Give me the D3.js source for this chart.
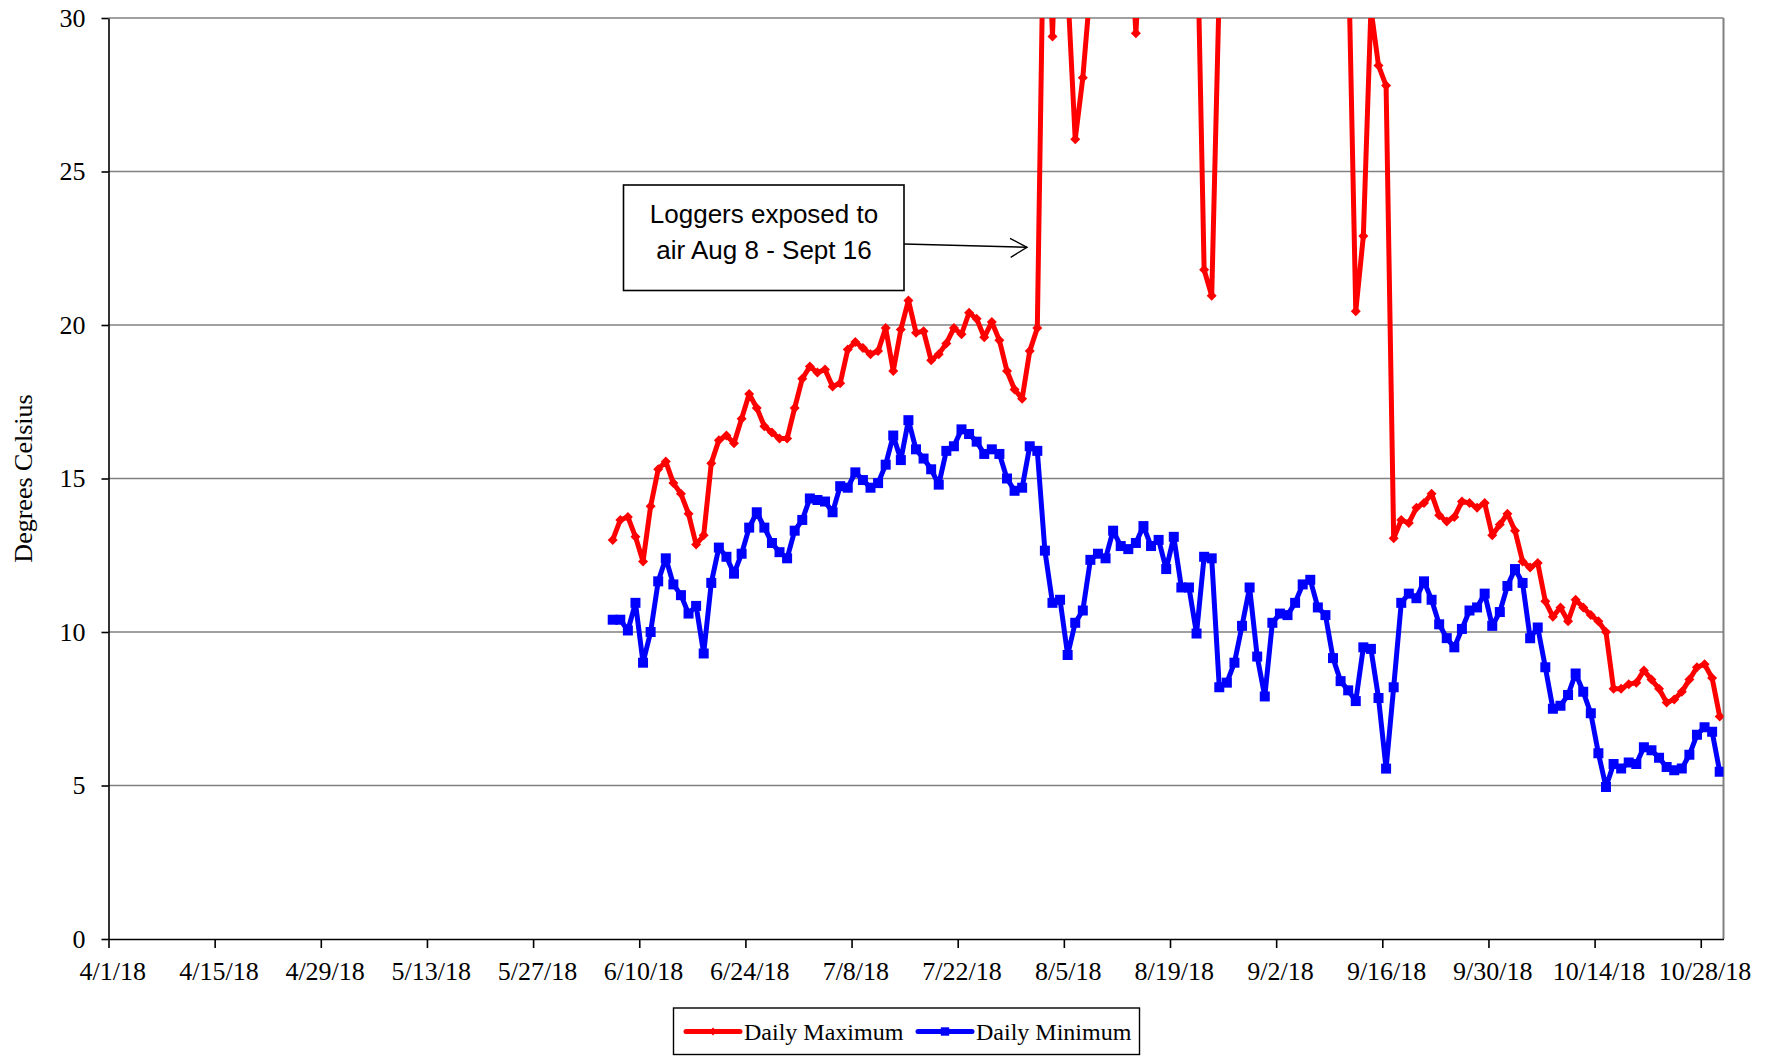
<!DOCTYPE html>
<html>
<head>
<meta charset="utf-8">
<script src="https://cdn.jsdelivr.net/npm/d3@7"></script>
<style>
  body { margin: 0; background: #fff; }
  svg { display: block; }
</style>
</head>
<body>
<svg id="chart"></svg>
<script>
// ───────────────── DATA ─────────────────
const FIRST_DAY = "6/6/18";   // one reading per day from here on

const dailyMax = [
  13.0, 13.65, 13.75, 13.1, 12.3, 14.1, 15.3, 15.55, 14.85, 14.5,
  13.85, 12.85, 13.15, 15.5, 16.25, 16.4, 16.15, 16.95, 17.75, 17.3,
  16.7, 16.5, 16.3, 16.3, 17.3, 18.25, 18.65, 18.45, 18.55, 18.0,
  18.1, 19.2, 19.45, 19.25, 19.05, 19.15, 19.9, 18.5, 19.85, 20.8,
  19.75, 19.8, 18.85, 19.05, 19.4, 19.9, 19.7, 20.4, 20.2, 19.6,
  20.1, 19.5, 18.5, 17.9, 17.6, 19.15, 19.9, 36, 29.4, 37,
  31, 26.05, 28.05, 31, 34, 35, 33, 35, 34, 29.5,
  34, 36, 35, 33, 35, 36, 34, 34, 21.8, 20.95,
  31, 34, 35, 33, 36, 35, 34, 33, 35, 36,
  34, 35, 36, 34, 33, 35, 34, 32.5, 20.45, 22.9,
  30.3, 28.45, 27.8, 13.05, 13.65, 13.55, 14.05, 14.2, 14.5, 13.8,
  13.6, 13.75, 14.25, 14.2, 14.05, 14.2, 13.15, 13.5, 13.85, 13.3,
  12.3, 12.1, 12.25, 11.0, 10.5, 10.8, 10.35, 11.05, 10.8, 10.55,
  10.35, 10.0, 8.15, 8.15, 8.3, 8.35, 8.75, 8.45, 8.15, 7.7,
  7.8, 8.05, 8.45, 8.85, 8.95, 8.5, 7.25
];

const dailyMin = [
  10.4, 10.4, 10.05, 10.95, 9.0, 10.0, 11.65, 12.4, 11.55, 11.2,
  10.6, 10.85, 9.3, 11.6, 12.75, 12.45, 11.9, 12.55, 13.4, 13.9,
  13.4, 12.9, 12.6, 12.4, 13.3, 13.65, 14.35, 14.3, 14.25, 13.9,
  14.75, 14.7, 15.2, 14.95, 14.7, 14.85, 15.45, 16.4, 15.6, 16.9,
  15.95, 15.65, 15.3, 14.8, 15.9, 16.05, 16.6, 16.45, 16.2, 15.8,
  15.95, 15.8, 15.0, 14.6, 14.7, 16.05, 15.9, 12.65, 10.95, 11.05,
  9.25, 10.3, 10.7, 12.35, 12.55, 12.4, 13.3, 12.8, 12.7, 12.9,
  13.45, 12.8, 13.0, 12.05, 13.1, 11.45, 11.45, 9.95, 12.45, 12.4,
  8.2, 8.35, 9.0, 10.2, 11.45, 9.2, 7.9, 10.3, 10.6, 10.55,
  10.95, 11.55, 11.7, 10.8, 10.55, 9.15, 8.4, 8.1, 7.75, 9.5,
  9.45, 7.85, 5.55, 8.2, 10.95, 11.25, 11.1, 11.65, 11.05, 10.25,
  9.8, 9.5, 10.1, 10.7, 10.8, 11.25, 10.2, 10.65, 11.5, 12.05,
  11.6, 9.8, 10.15, 8.85, 7.5, 7.6, 7.95, 8.65, 8.05, 7.35,
  6.05, 4.95, 5.7, 5.55, 5.75, 5.7, 6.25, 6.15, 5.9, 5.6,
  5.5, 5.55, 6.0, 6.65, 6.9, 6.75, 5.45
];

const xTickLabels = [
  "4/1/18", "4/15/18", "4/29/18", "5/13/18", "5/27/18", "6/10/18",
  "6/24/18", "7/8/18", "7/22/18", "8/5/18", "8/19/18", "9/2/18",
  "9/16/18", "9/30/18", "10/14/18", "10/28/18"
];
const X_END = "10/31/18";

const yTicks = [0, 5, 10, 15, 20, 25, 30];

const seriesNames = ["Daily Maximum", "Daily Minimum"];
const noteLines = ["Loggers exposed to", "air Aug 8 - Sept 16"];

// ───────────────── SIZE ─────────────────
const W = 1772;
const H = 1056;

const plot = {
  left: 108.5,
  right: 1723.5,
  top: 18,
  bottom: 939
};

const RED = "#ff0000";
const BLUE = "#0000ff";
const SERIF = "'Liberation Serif', 'Times New Roman', serif";

// ───────────────── SVG ─────────────────
const svg = d3.select("#chart")
  .attr("width", W)
  .attr("height", H)
  .attr("viewBox", `0 0 ${W} ${H}`);

svg.append("rect")
  .attr("width", W)
  .attr("height", H)
  .attr("fill", "#fff");

const parse = d3.timeParse("%-m/%-d/%y");
const firstDay = parse(FIRST_DAY);

const rows = dailyMax.map((v, i) => ({
  date: d3.timeDay.offset(firstDay, i),
  max: v,
  min: dailyMin[i]
}));

// ───────────────── SCALE ─────────────────
const x = d3.scaleTime()
  .domain([parse(xTickLabels[0]), parse(X_END)])
  .range([plot.left, plot.right]);

const y = d3.scaleLinear()
  .domain([0, 30])
  .range([plot.bottom, plot.top]);

// points sit in the middle of their day slot
const mid = d => x(d3.timeHour.offset(d, 12));
const halfDay = (x(parse("4/2/18")) - x(parse("4/1/18"))) / 2;

// ───── GRID ─────
svg.append("g")
  .selectAll("line")
  .data(yTicks.filter(t => t > 0))
  .join("line")
  .attr("x1", plot.left)
  .attr("x2", plot.right)
  .attr("y1", d => y(d))
  .attr("y2", d => y(d))
  .attr("stroke", "#808080")
  .attr("stroke-width", 1.4);

svg.append("line")
  .attr("x1", plot.right)
  .attr("x2", plot.right)
  .attr("y1", plot.top)
  .attr("y2", plot.bottom)
  .attr("stroke", "#808080")
  .attr("stroke-width", 2);

// ───── X AXIS ─────
const xAxis = svg.append("g")
  .attr("transform", `translate(0,${plot.bottom})`)
  .call(
    d3.axisBottom(x)
      .tickValues(xTickLabels.map(parse))
      .tickSize(9)
      .tickSizeOuter(0)
      .tickFormat((d, i) => xTickLabels[i])
  );

xAxis.selectAll("line,path")
  .attr("stroke", "#000")
  .attr("stroke-width", 1.6);

xAxis.selectAll("text")
  .attr("x", halfDay)
  .attr("y", 41)
  .attr("dy", 0)
  .attr("fill", "#000")
  .style("font-family", SERIF)
  .style("font-size", "26px");

// ───── Y AXIS ─────
const yAxis = svg.append("g")
  .attr("transform", `translate(${plot.left},0)`)
  .call(
    d3.axisLeft(y)
      .tickValues(yTicks)
      .tickSize(7)
      .tickSizeOuter(0)
      .tickPadding(16)
  );

yAxis.selectAll("line,path")
  .attr("stroke", "#000")
  .attr("stroke-width", 1.6);

yAxis.selectAll("text")
  .attr("fill", "#000")
  .style("font-family", SERIF)
  .style("font-size", "26px");

// ───── AXIS LABEL ─────
svg.append("text")
  .attr("transform", `translate(32,${(plot.top + plot.bottom) / 2}) rotate(-90)`)
  .attr("text-anchor", "middle")
  .attr("fill", "#000")
  .style("font-family", SERIF)
  .style("font-size", "26px")
  .text("Degrees Celsius");

// ───── LINES ─────
svg.append("clipPath")
  .attr("id", "plot-clip")
  .append("rect")
  .attr("x", plot.left)
  .attr("y", plot.top)
  .attr("width", plot.right - plot.left)
  .attr("height", plot.bottom - plot.top);

const marks = svg.append("g")
  .attr("clip-path", "url(#plot-clip)");

const diamond = s => `M0,${-s} L${s},0 L0,${s} L${-s},0 Z`;
const square = s => `M${-s},${-s} H${s} V${s} H${-s} Z`;

const series = [
  { key: "max", color: RED, shape: diamond(5) },
  { key: "min", color: BLUE, shape: square(5) }
];

series.forEach(s => {
  marks.append("path")
    .datum(rows)
    .attr("fill", "none")
    .attr("stroke", s.color)
    .attr("stroke-width", 5)
    .attr("stroke-linejoin", "round")
    .attr("d", d3.line()
      .x(d => mid(d.date))
      .y(d => y(d[s.key]))
    );

  marks.append("g")
    .selectAll("path")
    .data(rows)
    .join("path")
    .attr("transform", d => `translate(${mid(d.date)},${y(d[s.key])})`)
    .attr("d", s.shape)
    .attr("fill", s.color);
});

// ───── NOTE ─────
const note = svg.append("g");

note.append("rect")
  .attr("x", 623.5)
  .attr("y", 185)
  .attr("width", 280.5)
  .attr("height", 105.5)
  .attr("fill", "#fff")
  .attr("stroke", "#000")
  .attr("stroke-width", 1.6);

note.selectAll("text")
  .data(noteLines)
  .join("text")
  .attr("x", 764)
  .attr("y", (d, i) => 223 + i * 36)
  .attr("text-anchor", "middle")
  .attr("fill", "#000")
  .style("font-family", "'Liberation Sans', Arial, sans-serif")
  .style("font-size", "26px")
  .text(d => d);

note.append("line")
  .attr("x1", 904)
  .attr("y1", 244)
  .attr("x2", 1027)
  .attr("y2", 247.3)
  .attr("stroke", "#000")
  .attr("stroke-width", 1.4);

note.append("path")
  .attr("d", "M1010,238.3 L1027,247.3 L1010.7,257.3")
  .attr("fill", "none")
  .attr("stroke", "#000")
  .attr("stroke-width", 1.4);

// ───── LEGEND ─────
const legend = svg.append("g");

legend.append("rect")
  .attr("x", 673.5)
  .attr("y", 1008)
  .attr("width", 466)
  .attr("height", 46.5)
  .attr("fill", "#fff")
  .attr("stroke", "#000")
  .attr("stroke-width", 1.4);

const legendItems = [
  { name: seriesNames[0], color: RED, shape: diamond(4), x: 686 },
  { name: seriesNames[1], color: BLUE, shape: square(4.2), x: 918 }
];

legendItems.forEach(it => {
  legend.append("line")
    .attr("x1", it.x)
    .attr("x2", it.x + 54)
    .attr("y1", 1031.5)
    .attr("y2", 1031.5)
    .attr("stroke", it.color)
    .attr("stroke-width", 5)
    .attr("stroke-linecap", "round");

  legend.append("path")
    .attr("transform", `translate(${it.x + 27},1031.5)`)
    .attr("d", it.shape)
    .attr("fill", it.color);

  legend.append("text")
    .attr("x", it.x + 58)
    .attr("y", 1039.5)
    .attr("fill", "#000")
    .style("font-family", SERIF)
    .style("font-size", "24px")
    .text(it.name);
});
</script>
</body>
</html>
